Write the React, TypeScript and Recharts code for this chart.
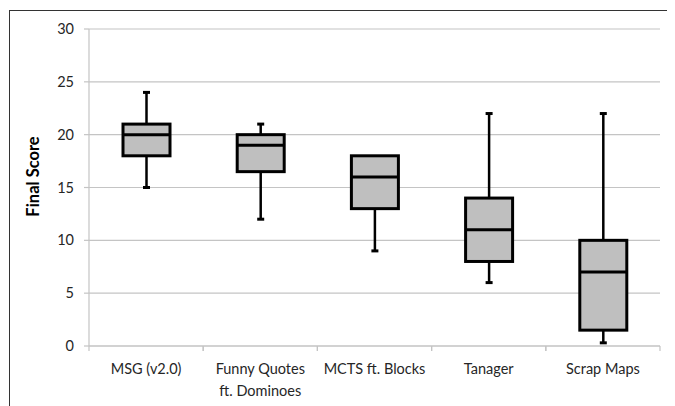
import { ComposedChart, Bar, XAxis, YAxis, CartesianGrid } from "recharts";

const categories = ["MSG (v2.0)", "Funny Quotes ft. Dominoes", "MCTS ft. Blocks", "Tanager", "Scrap Maps"];
const tickLines = [["MSG (v2.0)"], ["Funny Quotes", "ft. Dominoes"], ["MCTS ft. Blocks"], ["Tanager"], ["Scrap Maps"]];
const mins = [15, 12, 9, 6, 0.3];
const q1s = [18, 16.5, 13, 8, 1.5];
const medians = [20, 19, 16, 11, 7];
const q3s = [21, 20, 18, 14, 10];
const maxs = [24, 21, 18, 22, 22];
const yTicks = [0, 5, 10, 15, 20, 25, 30];

const data = categories.map((name, i) => ({
  name,
  range: [mins[i], maxs[i]],
  min: mins[i],
  q1: q1s[i],
  median: medians[i],
  q3: q3s[i],
  max: maxs[i],
}));

const font = "Lato, 'Open Sans', sans-serif";
const grid = "#c4c4c4";
const textCol = "#262626";

function BoxShape(props: any) {
  const { x, y, width, height, payload } = props;
  const { min, q1, median, q3, max } = payload;
  const toPx = (v: number) => y + ((max - v) / (max - min)) * height;
  const cx = x + width / 2;
  const yq1 = toPx(q1);
  const yq3 = toPx(q3);
  const ymed = toPx(median);
  const cap = 3.5;
  return (
    <g>
      <line x1={cx} x2={cx} y1={y} y2={y + height} stroke="#000" strokeWidth={2.5} />
      {max > q3 && <line x1={cx - cap} x2={cx + cap} y1={y} y2={y} stroke="#000" strokeWidth={3} />}
      <line x1={cx - cap} x2={cx + cap} y1={y + height} y2={y + height} stroke="#000" strokeWidth={3} />
      <rect x={x} y={yq3} width={width} height={yq1 - yq3} fill="#bfbfbf" stroke="#000" strokeWidth={3} />
      <line x1={x} x2={x + width} y1={ymed} y2={ymed} stroke="#000" strokeWidth={3} />
    </g>
  );
}

function CatTick(props: any) {
  const { x, y, payload, width, visibleTicksCount } = props;
  const lines = tickLines[payload.index] || [payload.value];
  const band = width / (visibleTicksCount || categories.length);
  return (
    <g>
      <line x1={x - band / 2} x2={x - band / 2} y1={y} y2={y + 5} stroke={grid} strokeWidth={1.2} />
      <line x1={x + band / 2} x2={x + band / 2} y1={y} y2={y + 5} stroke={grid} strokeWidth={1.2} />
      <text x={x} y={y} textAnchor="middle" fill={textCol} fontSize={14.5} fontFamily={font}>
        {lines.map((l, i) => (
          <tspan key={i} x={x} dy={i === 0 ? 28 : 22}>
            {l}
          </tspan>
        ))}
      </text>
    </g>
  );
}

export default function App() {
  return (
    <div style={{ position: "relative", width: 667, height: 398 }}>
      <div
        style={{
          position: "absolute",
          left: 1,
          top: 2,
          width: 666,
          height: 396,
          borderLeft: "1px solid #333",
          borderTop: "1px solid #333",
          boxSizing: "border-box",
        }}
      />
      <div style={{ position: "absolute", left: 0, top: 0 }}>
        <ComposedChart
          width={667}
          height={398}
          data={data}
          margin={{ top: 21, right: 15, left: 0, bottom: 0 }}
        >
          <CartesianGrid vertical={false} stroke={grid} strokeWidth={1.2} />
          <XAxis
            dataKey="name"
            height={60}
            stroke={grid}
            strokeWidth={1.2}
            tickLine={false}
            tickSize={0}
            tickMargin={0}
            interval={0}
            tick={<CatTick />}
          />
          <YAxis
            width={81}
            domain={[0, 30]}
            ticks={yTicks}
            stroke={grid}
            strokeWidth={1.2}
            tickSize={5}
            tickMargin={10}
            tick={{ fill: textCol, fontSize: 14.5, fontFamily: font }}
            label={({ viewBox }: any) => {
              const lx = 25;
              const ly = viewBox.y + viewBox.height / 2 - 11;
              return (
                <text
                  x={lx}
                  y={ly}
                  transform={`rotate(-90, ${lx}, ${ly})`}
                  textAnchor="middle"
                  dominantBaseline="central"
                  fill="#000"
                  fontSize={16.5}
                  fontWeight="bold"
                  fontFamily={font}
                >
                  Final Score
                </text>
              );
            }}
          />
          <Bar dataKey="range" barSize={47} shape={<BoxShape />} isAnimationActive={false} />
        </ComposedChart>
      </div>
    </div>
  );
}
